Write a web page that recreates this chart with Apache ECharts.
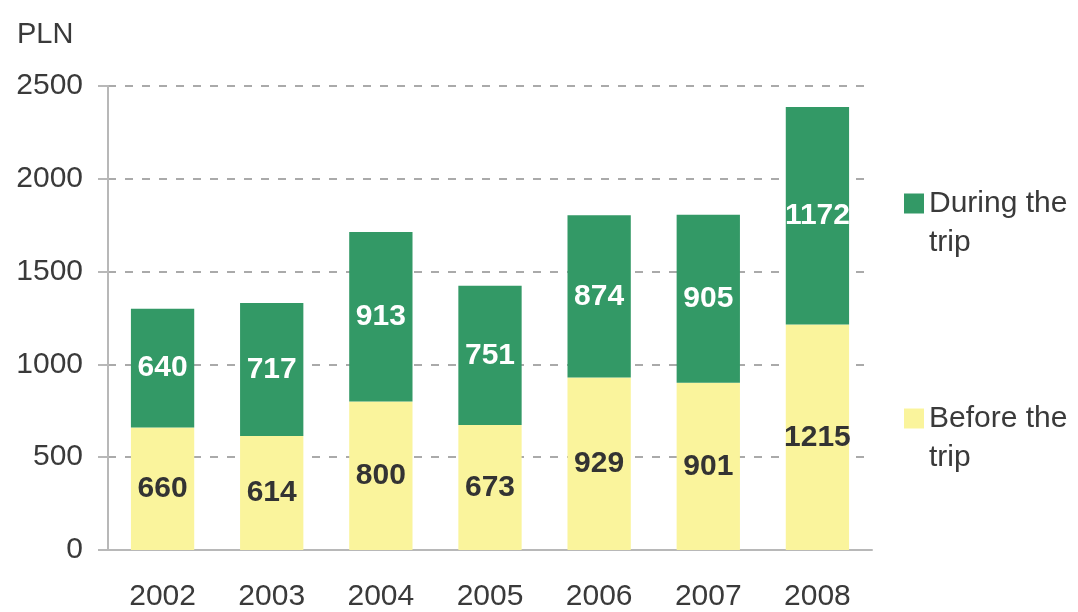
<!DOCTYPE html>
<html>
<head>
<meta charset="utf-8">
<script src="https://cdn.jsdelivr.net/npm/echarts@6/dist/echarts.min.js"></script>
<style>
  html, body { margin: 0; padding: 0; background: #fff; }
  #chart { width: 1078px; height: 612px; }
</style>
</head>
<body>
<div id="chart"></div>
<script>
var years = ['2002', '2003', '2004', '2005', '2006', '2007', '2008'];
var beforeTrip = [660, 614, 800, 673, 929, 901, 1215];
var duringTrip = [640, 717, 913, 751, 874, 905, 1172];
var yTicks = { min: 0, max: 2500, interval: 500 };

var font = 'Liberation Sans, Arial, sans-serif';
var textColor = '#3a3a3a';

var chart = echarts.init(document.getElementById('chart'));

// blank first line keeps the marker level with the first text line
function legendText(name) {
    return ' \n' + name.replace(' trip', '\ntrip');
}

var legendBase = {
    orient: 'vertical',
    left: 899,
    itemWidth: 20,
    itemHeight: 20,
    icon: 'rect',
    selectedMode: false,
    formatter: legendText,
    textStyle: {
        fontFamily: font,
        fontSize: 30,
        color: textColor,
        lineHeight: 39
    }
};

chart.setOption({
    animation: false,
    textStyle: { fontFamily: font },
    title: {
        text: 'PLN',
        left: 12,
        top: 15,
        textStyle: { fontFamily: font, fontSize: 29, fontWeight: 'normal', color: textColor }
    },
    legend: [
        Object.assign({}, legendBase, { top: 140, data: ['During the trip'] }),
        Object.assign({}, legendBase, { top: 355, data: ['Before the trip'] })
    ],
    grid: { left: 108, right: 206, top: 86, bottom: 59 },
    xAxis: {
        type: 'category',
        data: years,
        axisLine: { lineStyle: { color: '#b8b8b8', width: 2 } },
        axisTick: { length: 10, lineStyle: { color: '#b8b8b8', width: 2 } },
        axisLabel: { margin: 32, fontSize: 30, color: textColor, fontFamily: font }
    },
    yAxis: {
        type: 'value',
        min: yTicks.min,
        max: yTicks.max,
        interval: yTicks.interval,
        axisLine: { show: true, lineStyle: { color: '#b8b8b8', width: 2 } },
        axisTick: { show: true, length: 10, lineStyle: { color: '#b8b8b8', width: 2 } },
        axisLabel: {
            margin: 25,
            fontSize: 30,
            color: textColor,
            fontFamily: font,
            formatter: function (v) { return String(v); }
        },
        splitLine: { lineStyle: { color: '#aaaaaa', type: [8, 9], width: 2 } }
    },
    series: [
        {
            name: 'Before the trip',
            type: 'bar',
            stack: 'total',
            barWidth: '58%',
            data: beforeTrip,
            itemStyle: { color: '#faf49c' },
            label: {
                show: true,
                position: 'inside',
                fontSize: 30,
                fontWeight: 'bold',
                color: '#333333',
                fontFamily: font
            }
        },
        {
            name: 'During the trip',
            type: 'bar',
            stack: 'total',
            barWidth: '58%',
            data: duringTrip,
            itemStyle: { color: '#339966' },
            label: {
                show: true,
                position: 'inside',
                fontSize: 30,
                fontWeight: 'bold',
                color: '#ffffff',
                fontFamily: font
            }
        }
    ]
});
</script>
</body>
</html>
